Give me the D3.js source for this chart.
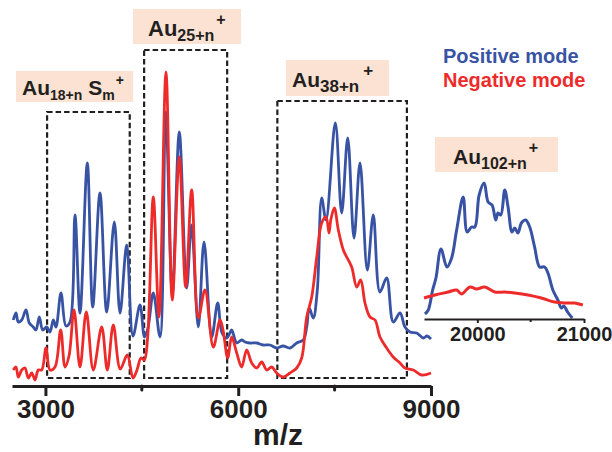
<!DOCTYPE html>
<html>
<head>
<meta charset="utf-8">
<script src="https://cdn.jsdelivr.net/npm/d3@7"></script>
<style>
  body { margin: 0; background: #fff; }
  svg { display: block; font-family: "Liberation Sans", Arial, sans-serif; font-weight: bold; }
</style>
</head>
<body>
<svg id="chart" width="612" height="452"></svg>
<script>
// positive mode spectrum, [m/z, intensity]
var posMain = [
  [2500,66],[2542,73],[2578,64],[2631,66],[2698,76],[2749,63],[2811,59],[2853,56],[2905,69],[2958,56],
  [3020,59],[3071,54],[3123,66],[3165,59],[3242,93],[3320,60],[3383,64],[3460,171],[3538,73],[3652,223],
  [3736,79],[3849,193],[3954,74],[4072,164],[4161,73],[4265,141],[4363,50],[4472,81],[4542,49],[4596,58],
  [4679,93],[4783,49],[4872,274],[4974,93],[5083,254],[5198,98],[5273,161],[5379,59],[5468,144],[5588,49],
  [5681,83],[5748,53],[5821,48],[5899,56],[5924,52],[5977,43],[6054,46],[6106,44],[6183,43],[6287,43],
  [6386,41],[6495,41],[6599,38],[6697,40],[6806,38],[6910,43],[7013,46],[7066,59],[7106,78],[7168,68],
  [7231,96],[7299,188],[7366,166],[7511,263],[7610,173],[7704,248],[7802,148],[7895,223],[8009,116],[8102,171],
  [8206,94],[8310,108],[8413,64],[8518,73],[8595,59],[8673,54],[8777,53],[8880,48],[8938,50],[9000,47]
];

// negative mode spectrum
var negMain = [
  [2500,16],[2542,19],[2578,9],[2631,16],[2682,18],[2734,8],[2787,13],[2838,6],[2889,16],[2942,16],
  [3009,38],[3071,16],[3149,19],[3238,56],[3305,19],[3367,30],[3445,76],[3538,19],[3636,74],[3745,16],
  [3876,59],[3963,16],[4056,61],[4165,17],[4274,31],[4363,8],[4425,16],[4487,28],[4539,26],[4591,49],
  [4679,189],[4767,69],[4876,314],[4974,86],[5083,229],[5183,99],[5276,196],[5379,68],[5483,96],[5613,39],
  [5717,66],[5764,56],[5836,28],[5899,49],[5977,33],[6054,19],[6132,36],[6210,23],[6288,18],[6366,24],
  [6443,16],[6521,19],[6599,13],[6702,9],[6806,13],[6910,18],[6988,28],[7066,69],[7144,89],[7222,129],
  [7299,163],[7366,169],[7413,153],[7440,166],[7496,178],[7558,156],[7636,136],[7688,129],[7766,119],[7844,99],
  [7906,106],[7973,83],[8051,69],[8129,66],[8206,49],[8310,38],[8413,29],[8518,23],[8595,18],[8725,16],
  [8855,11],[9000,13]
];

// inset, Au102+n region
var posInset = [
  [19509,5],[19540,9],[19581,29],[19612,41],[19659,70],[19715,52],[19759,61],[19806,89],[19867,122],[19905,87],
  [19946,92],[19977,92],[20017,124],[20064,136],[20101,117],[20138,114],[20173,99],[20194,106],[20220,104],[20257,129],
  [20288,112],[20325,87],[20350,91],[20381,86],[20413,96],[20453,99],[20491,92],[20537,72],[20584,52],[20631,52],
  [20662,46],[20708,29],[20755,19],[20787,11],[20811,13],[20846,7],[20890,1]
];
var negInset = [
  [19500,21],[19603,24],[19727,27],[19806,29],[19852,25],[19930,32],[19993,30],[20070,32],[20164,27],[20257,27],
  [20350,26],[20475,24],[20600,21],[20724,17],[20818,16],[20911,16],[20989,14]
];

var mainTicks = [3000, 6000, 9000];
var mainMinorTicks = [4500, 7500];
var insetTicks = [20000, 21000];
var insetMinorTicks = [20500];

// dashed boxes: m/z from, m/z to, top intensity
var boxes = [
  [3026, 4312, 274],
  [4536, 5828, 336],
  [6609, 8625, 285]
];

var blue = "#3853a4", red = "#ee2b2b", ink = "#231f20", peach = "#fbe2d2";

var svg = d3.select("#chart");

var x = d3.scaleLinear().domain([2480, 9000]).range([12, 431]);
var y = d3.scaleLinear().domain([0, 320]).range([386, 66]);

var xi = d3.scaleLinear().domain([19500, 21000]).range([424, 584]);
var yi = d3.scaleLinear().domain([0, 150]).range([319, 169]);

// dashed boxes
svg.selectAll(".box")
    .data(boxes)
    .enter()
    .append("rect")
    .attr("x", function (d) { return x(d[0]); })
    .attr("y", function (d) { return y(d[2]); })
    .attr("width", function (d) { return x(d[1]) - x(d[0]); })
    .attr("height", function (d) { return y(8) - y(d[2]); })
    .attr("fill", "none")
    .attr("stroke", ink)
    .attr("stroke-width", 2.2)
    .attr("stroke-dasharray", "5.5,3");

var line = d3.line()
    .x(function (d) { return x(d[0]); })
    .y(function (d) { return y(d[1]); })
    .curve(d3.curveCatmullRom.alpha(0.5));

var lineInset = d3.line()
    .x(function (d) { return xi(d[0]); })
    .y(function (d) { return yi(d[1]); })
    .curve(d3.curveCatmullRom.alpha(0.5));

svg.append("path").attr("d", line(posMain))
    .attr("fill", "none").attr("stroke", blue).attr("stroke-width", 2.8).attr("stroke-linejoin", "round");
svg.append("path").attr("d", line(negMain))
    .attr("fill", "none").attr("stroke", red).attr("stroke-width", 2.8).attr("stroke-linejoin", "round");

svg.append("path").attr("d", lineInset(posInset))
    .attr("fill", "none").attr("stroke", blue).attr("stroke-width", 3).attr("stroke-linejoin", "round");
svg.append("path").attr("d", lineInset(negInset))
    .attr("fill", "none").attr("stroke", red).attr("stroke-width", 3).attr("stroke-linejoin", "round");

// main x axis
var gx = svg.append("g").attr("transform", "translate(0,386)")
    .call(d3.axisBottom(x).tickValues(mainTicks).tickSize(10).tickSizeOuter(0).tickFormat(d3.format("d")));
gx.select(".domain").attr("stroke", ink).attr("stroke-width", 3);
gx.selectAll(".tick line").attr("stroke", ink).attr("stroke-width", 3);
gx.selectAll(".tick text")
    .attr("y", 32).attr("dy", 0)
    .attr("fill", ink)
    .style("font-size", "26px").style("font-weight", "bold")
    .style("font-family", "'Liberation Sans', Arial, sans-serif");

svg.selectAll(".minor")
    .data(mainMinorTicks)
    .enter()
    .append("line")
    .attr("x1", function (d) { return x(d); })
    .attr("x2", function (d) { return x(d); })
    .attr("y1", 386).attr("y2", 390)
    .attr("stroke", ink).attr("stroke-width", 3).attr("stroke-linecap", "round");

svg.append("text")
    .attr("x", 278).attr("y", 445)
    .attr("text-anchor", "middle")
    .attr("fill", ink)
    .style("font-size", "30px")
    .text("m/z");

// inset axis
var gi = svg.append("g").attr("transform", "translate(0,319)")
    .call(d3.axisBottom(xi).tickValues(insetTicks).tickSize(4).tickSizeOuter(0).tickFormat(d3.format("d")));
gi.select(".domain").attr("stroke", ink).attr("stroke-width", 2);
gi.selectAll(".tick line").attr("stroke", ink).attr("stroke-width", 2);
gi.selectAll(".tick text")
    .attr("y", 22).attr("dy", 0)
    .attr("fill", ink)
    .style("font-size", "20px").style("font-weight", "bold")
    .style("font-family", "'Liberation Sans', Arial, sans-serif");

svg.selectAll(".iminor")
    .data(insetMinorTicks)
    .enter()
    .append("line")
    .attr("x1", function (d) { return xi(d); })
    .attr("x2", function (d) { return xi(d); })
    .attr("y1", 319).attr("y2", 322)
    .attr("stroke", ink).attr("stroke-width", 2);

// region labels on peach plates
function label(bx, by, bw, bh, tx, ty, size, sub, parts) {
    svg.append("rect").attr("x", bx).attr("y", by).attr("width", bw).attr("height", bh).attr("fill", peach);
    var t = svg.append("text").attr("x", tx).attr("y", ty).attr("fill", ink).style("font-size", size + "px");
    parts.forEach(function (p) {
        var s = t.append("tspan").text(p.t);
        if (p.sub) s.style("font-size", sub + "px").attr("dy", p.dy);
        else if (p.sup) s.style("font-size", sub + "px").attr("dy", p.dy).attr("dx", p.dx || 0);
        else s.attr("dy", p.dy || 0).attr("dx", p.dx || 0);
    });
}

label(16, 71, 117, 31, 22, 94.5, 21, 14, [
    { t: "Au" }, { t: "18+n", sub: true, dy: 5 }, { t: "S", dy: -5, dx: 6 },
    { t: "m", sub: true, dy: 5 }, { t: "+", sup: true, dy: -15, dx: 1 }
]);
label(133, 9, 108, 35, 148, 36, 22, 16, [
    { t: "Au" }, { t: "25+n", sub: true, dy: 5 }, { t: "+", sup: true, dy: -16, dx: 2 }
]);
label(286, 60, 103, 36, 292, 87, 21, 17, [
    { t: "Au" }, { t: "38+n", sub: true, dy: 5 }, { t: "+", sup: true, dy: -16, dx: 4 }
]);
label(435, 137, 123, 35, 453, 164, 21, 16, [
    { t: "Au" }, { t: "102+n", sub: true, dy: 5 }, { t: "+", sup: true, dy: -16, dx: 2 }
]);

// legend
svg.append("text").attr("x", 443).attr("y", 63).attr("fill", blue).style("font-size", "20px").text("Positive mode");
svg.append("text").attr("x", 443).attr("y", 87).attr("fill", red).style("font-size", "20px").text("Negative mode");
</script>
</body>
</html>
